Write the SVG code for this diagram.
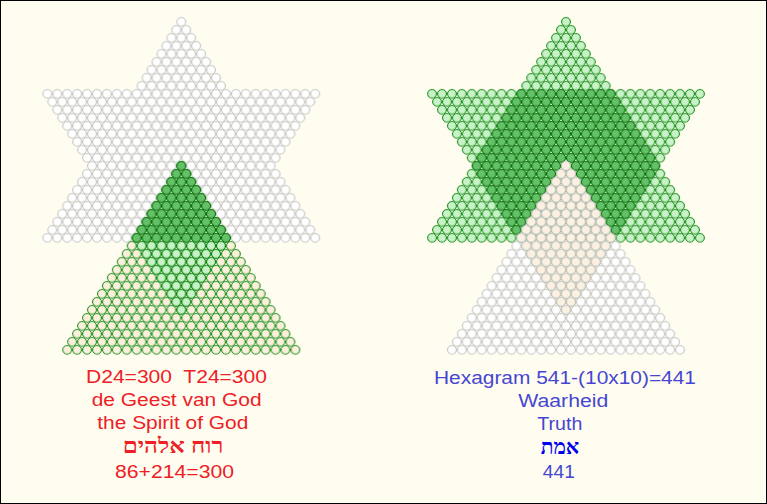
<svg xmlns="http://www.w3.org/2000/svg" width="767" height="504" viewBox="0 0 767 504">
<style>
.cw{fill:#ffffff;stroke:#bcbcbc}
.cc{fill:#fcf0dc;stroke:#008000}
.cd{fill:#64c069;stroke:#006a00}
.cg{fill:#c8f2c8;stroke:#008000}
.cp{fill:#fcf0e0;stroke:#c8c8c8}
text{font-family:"Liberation Sans",Arial,sans-serif;font-size:17.5px;text-anchor:middle}
.heb{font-family:"Liberation Serif","DejaVu Sans",serif;font-size:21px;font-weight:bold}
.red{fill:#ee2026}
.blue{fill:#4646d2}
</style>
<defs>
<pattern id="wO" x="5" y="0" width="10" height="16" patternUnits="userSpaceOnUse"><circle class="cw" cx="5" cy="5" r="4.45"/></pattern>
<pattern id="wE" x="0" y="8" width="10" height="16" patternUnits="userSpaceOnUse"><circle class="cw" cx="5" cy="5" r="4.45"/></pattern>
<pattern id="cO" x="5" y="0" width="10" height="16" patternUnits="userSpaceOnUse"><circle class="cc" cx="5" cy="5" r="4.45"/></pattern>
<pattern id="cE" x="0" y="8" width="10" height="16" patternUnits="userSpaceOnUse"><circle class="cc" cx="5" cy="5" r="4.45"/></pattern>
<pattern id="dO" x="5" y="0" width="10" height="16" patternUnits="userSpaceOnUse"><circle class="cd" cx="5" cy="5" r="4.45"/></pattern>
<pattern id="dE" x="0" y="8" width="10" height="16" patternUnits="userSpaceOnUse"><circle class="cd" cx="5" cy="5" r="4.45"/></pattern>
<pattern id="gO" x="5" y="0" width="10" height="16" patternUnits="userSpaceOnUse"><circle class="cg" cx="5" cy="5" r="4.45"/></pattern>
<pattern id="gE" x="0" y="8" width="10" height="16" patternUnits="userSpaceOnUse"><circle class="cg" cx="5" cy="5" r="4.45"/></pattern>
<pattern id="pO" x="5" y="0" width="10" height="16" patternUnits="userSpaceOnUse"><circle class="cp" cx="5" cy="5" r="4.45"/></pattern>
<pattern id="pE" x="0" y="8" width="10" height="16" patternUnits="userSpaceOnUse"><circle class="cp" cx="5" cy="5" r="4.45"/></pattern>
<path id="So" d="M-5 0h10v10h-10zM-15 16h30v10h-30zM-25 32h50v10h-50zM-35 48h70v10h-70zM-45 64h90v10h-90zM-135 80h270v10h-270zM-125 96h250v10h-250zM-115 112h230v10h-230zM-105 128h210v10h-210zM-95 144h190v10h-190zM-105 160h210v10h-210zM-115 176h230v10h-230zM-125 192h250v10h-250zM-135 208h270v10h-270zM-45 224h90v10h-90zM-35 240h70v10h-70zM-25 256h50v10h-50zM-15 272h30v10h-30zM-5 288h10v10h-10z"/>
<path id="Se" d="M-10 8h20v10h-20zM-20 24h40v10h-40zM-30 40h60v10h-60zM-40 56h80v10h-80zM-140 72h280v10h-280zM-130 88h260v10h-260zM-120 104h240v10h-240zM-110 120h220v10h-220zM-100 136h200v10h-200zM-100 152h200v10h-200zM-110 168h220v10h-220zM-120 184h240v10h-240zM-130 200h260v10h-260zM-140 216h280v10h-280zM-40 232h80v10h-80zM-30 248h60v10h-60zM-20 264h40v10h-40zM-10 280h20v10h-20z"/>
<path id="To" d="M-5 144h10v10h-10zM-15 160h30v10h-30zM-25 176h50v10h-50zM-35 192h70v10h-70zM-45 208h90v10h-90zM-55 224h110v10h-110zM-65 240h130v10h-130zM-75 256h150v10h-150zM-85 272h170v10h-170zM-95 288h190v10h-190zM-105 304h210v10h-210zM-115 320h230v10h-230z"/>
<path id="Te" d="M-10 152h20v10h-20zM-20 168h40v10h-40zM-30 184h60v10h-60zM-40 200h80v10h-80zM-50 216h100v10h-100zM-60 232h120v10h-120zM-70 248h140v10h-140zM-80 264h160v10h-160zM-90 280h180v10h-180zM-100 296h200v10h-200zM-110 312h220v10h-220zM-120 328h240v10h-240z"/>
<path id="OTo" d="M-5 144h10v10h-10zM-15 160h30v10h-30zM-25 176h50v10h-50zM-35 192h70v10h-70zM-45 208h90v10h-90z"/>
<path id="OTe" d="M-10 152h20v10h-20zM-20 168h40v10h-40zM-30 184h60v10h-60zM-40 200h80v10h-80zM-50 216h100v10h-100z"/>
<path id="OBo" d="M-45 224h90v10h-90zM-35 240h70v10h-70zM-25 256h50v10h-50zM-15 272h30v10h-30zM-5 288h10v10h-10z"/>
<path id="OBe" d="M-40 232h80v10h-80zM-30 248h60v10h-60zM-20 264h40v10h-40zM-10 280h20v10h-20z"/>
<path id="Ho" d="M-55 80h110v10h-110zM-65 96h130v10h-130zM-75 112h150v10h-150zM-85 128h170v10h-170zM-95 144h190v10h-190zM-85 160h170v10h-170zM-75 176h150v10h-150zM-65 192h130v10h-130zM-55 208h110v10h-110z"/>
<path id="He" d="M-50 72h100v10h-100zM-60 88h120v10h-120zM-70 104h140v10h-140zM-80 120h160v10h-160zM-90 136h180v10h-180zM-90 152h180v10h-180zM-80 168h160v10h-160zM-70 184h140v10h-140zM-60 200h120v10h-120zM-50 216h100v10h-100z"/>
</defs>
<rect x="0.5" y="0.5" width="766" height="503" fill="#fffdf0" stroke="#000"/>
<g id="left-figure" transform="translate(181.3,16.8) scale(0.992,1)">
<use href="#So" fill="url(#wO)"/>
<use href="#Se" fill="url(#wE)"/>
<use href="#To" fill="url(#cO)"/>
<use href="#Te" fill="url(#cE)"/>
<use href="#OTo" fill="url(#dO)"/>
<use href="#OTe" fill="url(#dE)"/>
<use href="#OBo" fill="url(#gO)"/>
<use href="#OBe" fill="url(#gE)"/>
</g>
<g id="right-figure" transform="translate(566,16.8) scale(0.992,1)">
<use href="#So" fill="url(#gO)"/>
<use href="#Se" fill="url(#gE)"/>
<use href="#Ho" fill="url(#dO)"/>
<use href="#He" fill="url(#dE)"/>
<use href="#To" fill="url(#wO)"/>
<use href="#Te" fill="url(#wE)"/>
<use href="#OTo" fill="url(#pO)"/>
<use href="#OTe" fill="url(#pE)"/>
<use href="#OBo" fill="url(#pO)"/>
<use href="#OBe" fill="url(#pE)"/>
</g>
<g id="left-text" class="red">
<text x="176.5" y="383" textLength="181" lengthAdjust="spacingAndGlyphs" xml:space="preserve">D24=300  T24=300</text>
<text x="176.7" y="406" textLength="170" lengthAdjust="spacingAndGlyphs">de Geest van God</text>
<text x="172.8" y="429" textLength="151" lengthAdjust="spacingAndGlyphs">the Spirit of God</text>
<text class="heb" x="173" y="453" textLength="100.6" lengthAdjust="spacingAndGlyphs">רוח אלהים</text>
<text x="174.5" y="478" textLength="119" lengthAdjust="spacingAndGlyphs">86+214=300</text>
</g>
<g id="right-text" class="blue">
<text x="565" y="384" textLength="262" lengthAdjust="spacingAndGlyphs">Hexagram 541-(10x10)=441</text>
<text x="563.3" y="406.5" textLength="90" lengthAdjust="spacingAndGlyphs">Waarheid</text>
<text x="559.8" y="430" textLength="45" lengthAdjust="spacingAndGlyphs">Truth</text>
<text class="heb" x="560" y="454" textLength="38.6" lengthAdjust="spacingAndGlyphs" fill="#0000f0">אמת</text>
<text x="558.8" y="478" textLength="32" lengthAdjust="spacingAndGlyphs">441</text>
</g>
</svg>
